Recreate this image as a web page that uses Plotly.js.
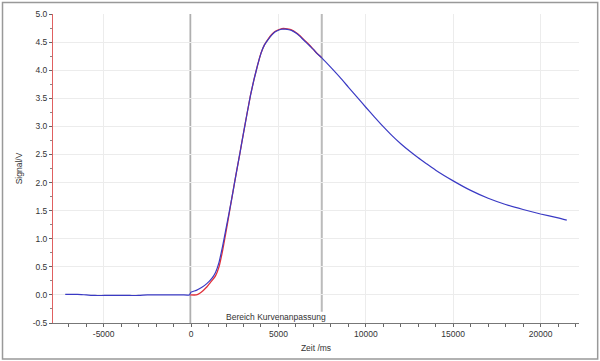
<!DOCTYPE html>
<html>
<head>
<meta charset="utf-8">
<script src="https://cdn.plot.ly/plotly-3.0.1.min.js"></script>
<style>
html,body{margin:0;padding:0;background:#fff;}
#chart{width:600px;height:361px;}
</style>
</head>
<body>
<div id="chart"></div>
<script>
// Measured signal (blue)
const measTime = [-7200,-6800,-6500,-6000,-5500,-5000,-4500,-4000,-3500,-3000,-2500,-2000,-1500,-1000,-500,-100,0,300,600,900,1200,1400,1600,1800,2000,2200,2400,2600,2800,3000,3200,3400,3600,3800,4000,4200,4400,4600,4800,5000,5200,5400,5600,5800,6000,6200,6400,6600,6800,7000,7200,7480,8000,8500,9000,9500,10000,10500,11000,11500,12000,12500,13000,13500,14000,15000,16000,17000,18000,19000,20000,21000,21500];
const measSignal = [0.01,0.01,0.01,0.0,-0.01,-0.01,-0.01,-0.01,-0.01,-0.01,0.0,0.0,0.0,0.0,0.0,0.0,0.05,0.08,0.13,0.20,0.30,0.40,0.58,0.86,1.18,1.50,1.84,2.19,2.53,2.88,3.22,3.55,3.83,4.08,4.30,4.45,4.54,4.62,4.68,4.71,4.73,4.73,4.72,4.70,4.66,4.61,4.55,4.49,4.43,4.37,4.30,4.22,4.05,3.88,3.70,3.52,3.34,3.165,2.995,2.835,2.69,2.56,2.44,2.33,2.22,2.03,1.86,1.72,1.61,1.52,1.44,1.37,1.33];
// Fit curve (red)
const fitTime = [-50,300,500,700,900,1100,1400,1600,1800,2000,2200,2400,2600,2800,3000,3200,3400,3600,3800,4000,4200,4400,4600,4800,5000,5200,5400,5600,5800,6000,6200,6400,6600,6800,7000,7200,7480];
const fitSignal = [0.0,0.0,0.03,0.08,0.14,0.22,0.34,0.50,0.78,1.12,1.48,1.84,2.19,2.53,2.88,3.22,3.55,3.83,4.08,4.30,4.45,4.55,4.63,4.69,4.72,4.74,4.74,4.73,4.71,4.67,4.62,4.56,4.50,4.44,4.37,4.30,4.22];
// Fit range markers
const rangeStart = -50;
const rangeEnd = 7480;
// Tick labels
const xTickVals = [-5000,0,5000,10000,15000,20000];
const xTickText = ['-5000','0','5000','10000','15000','20000'];
const yTickVals = [-0.5,0,0.5,1,1.5,2,2.5,3,3.5,4,4.5,5];
const yTickText = ['-0.5','0.0','0.5','1.0','1.5','2.0','2.5','3.0','3.5','4.0','4.5','5.0'];

const font = 'Liberation Sans, Arial, sans-serif';

const traces = [
  {x: fitTime, y: fitSignal, type: 'scatter', mode: 'lines',
   line: {color: '#e0303a', width: 1.3, shape: 'spline', smoothing: 0.5}, hoverinfo: 'skip'},
  {x: measTime, y: measSignal, type: 'scatter', mode: 'lines',
   line: {color: '#3a3ac4', width: 1.2, shape: 'spline', smoothing: 0.5}, hoverinfo: 'skip'}
];

const layout = {
  width: 600, height: 361,
  margin: {l: 53, r: 21, t: 14, b: 38},
  paper_bgcolor: '#fff', plot_bgcolor: '#fff',
  showlegend: false,
  font: {family: font, size: 8.5, color: '#333'},
  xaxis: {
    range: [-7900, 22200], autorange: false,
    tickmode: 'array', tickvals: xTickVals, ticktext: xTickText,
    ticks: 'outside', ticklen: 3, tickcolor: '#666',
    minor: {dtick: 1000, tick0: 0, ticks: 'outside', ticklen: 3, tickcolor: '#666', showgrid: false},
    showgrid: true, gridcolor: '#ececec', gridwidth: 1,
    zeroline: false,
    showline: true, linecolor: '#777', linewidth: 1,
    tickfont: {family: font, size: 8.5, color: '#333'},
    title: {text: 'Zeit /ms', font: {family: font, size: 8.5, color: '#333'}, standoff: 6}
  },
  yaxis: {
    range: [-0.5, 5.0], autorange: false,
    tickmode: 'array', tickvals: yTickVals, ticktext: yTickText,
    ticks: 'outside', ticklen: 3, tickcolor: '#666',
    minor: {dtick: 0.25, tick0: 0, ticks: 'outside', ticklen: 2, tickcolor: '#888', showgrid: false},
    showgrid: true, gridcolor: '#ececec', gridwidth: 1,
    zeroline: false,
    showline: true, linecolor: '#e06060', linewidth: 1,
    tickfont: {family: font, size: 8.5, color: '#333'},
    title: {text: 'Signal/V', font: {family: font, size: 8.5, color: '#333'}, standoff: 8}
  },
  shapes: [
    {type: 'line', xref: 'x', yref: 'y', x0: rangeStart, x1: rangeStart, y0: -0.5, y1: 5.0,
     line: {color: '#999', width: 1.2}, layer: 'below'},
    {type: 'line', xref: 'x', yref: 'y', x0: rangeEnd, x1: rangeEnd, y0: -0.3, y1: 5.0,
     line: {color: '#bbb', width: 2}, layer: 'below'},
    {type: 'rect', xref: 'paper', yref: 'paper',
     x0: -0.0960, x1: 1.0355, y0: -0.1165, y1: 1.0375,
     line: {color: '#999', width: 1.5}, fillcolor: 'rgba(0,0,0,0)'}
  ],
  annotations: [
    {x: 4855, y: -0.39, xref: 'x', yref: 'y', text: 'Bereich Kurvenanpassung',
     showarrow: false, font: {family: font, size: 8.5, color: '#333'}}
  ]
};

Plotly.newPlot('chart', traces, layout, {staticPlot: true, displayModeBar: false});
</script>
</body>
</html>
